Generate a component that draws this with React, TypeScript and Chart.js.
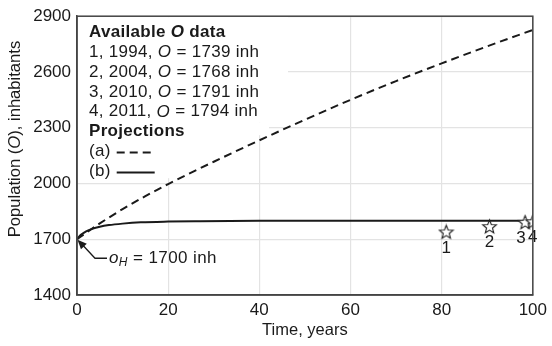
import React, { useEffect, useRef } from "react";
import { Chart, registerables } from "chart.js";
Chart.register(...registerables);

// Projection (a) – dashed
const tA = [0, 5, 10, 15, 20, 30, 40, 50, 60, 70, 80, 90, 100];
const popA = [1700, 1785, 1862, 1932, 1997, 2117, 2232, 2343, 2450, 2551, 2646, 2738, 2826];
// Projection (b) – solid
const tB = [0, 0.5, 1, 2, 3, 5, 7, 10, 14, 20, 27, 40, 60, 80, 100];
const popB = [1700, 1715, 1726, 1742, 1753, 1767, 1776, 1784, 1791, 1795, 1797, 1799, 1800, 1800, 1800];
// Available O data
const obsLabels = ["1", "2", "3", "4"];
const obsYears = [1994, 2004, 2010, 2011];
const obsT = [81, 90.5, 98.3, 100];
const obsPop = [1739, 1768, 1791, 1794];
// Axes
const xTicks = [0, 20, 40, 60, 80, 100];
const yTicks = [1400, 1700, 2000, 2300, 2600, 2900];
const oH = 1700;

const FF = '"Liberation Sans", Arial, Helvetica, sans-serif';
const INK = "#1a1a1a";
const FS = 17;

type Part = { t: string; b?: boolean; i?: boolean; size?: number; dy?: number };

function drawParts(ctx: CanvasRenderingContext2D, x: number, y: number, parts: Part[], size: number) {
  let cx = x;
  for (const p of parts) {
    const s = p.size ?? size;
    ctx.font = `${p.i ? "italic " : ""}${p.b ? "bold " : ""}${s}px ${FF}`;
    ctx.fillText(p.t, cx, y + (p.dy ?? 0));
    cx += ctx.measureText(p.t).width;
  }
  return cx;
}
function measureParts(ctx: CanvasRenderingContext2D, parts: Part[], size: number) {
  let w = 0;
  for (const p of parts) {
    const s = p.size ?? size;
    ctx.font = `${p.i ? "italic " : ""}${p.b ? "bold " : ""}${s}px ${FF}`;
    w += ctx.measureText(p.t).width;
  }
  return w;
}

function makeStar(): HTMLCanvasElement {
  const c = document.createElement("canvas");
  c.width = 17;
  c.height = 17;
  const g = c.getContext("2d")!;
  const cx = 8.5, cy = 9, R = 7.2, r = 3.1;
  g.beginPath();
  for (let k = 0; k < 10; k++) {
    const ang = -Math.PI / 2 + (k * Math.PI) / 5;
    const rad = k % 2 === 0 ? R : r;
    const px = cx + rad * Math.cos(ang);
    const py = cy + rad * Math.sin(ang);
    if (k === 0) g.moveTo(px, py);
    else g.lineTo(px, py);
  }
  g.closePath();
  g.fillStyle = "#fff";
  g.fill();
  g.lineWidth = 1.1;
  g.strokeStyle = "#222";
  g.stroke();
  return c;
}

const overlay = {
  id: "overlay",
  beforeDatasetsDraw(chart: any) {
    const { ctx, chartArea: a } = chart;
    ctx.save();
    ctx.fillStyle = "#fff";
    ctx.fillRect(a.left + 1, a.top + 1, 210, 105);
    ctx.fillRect(a.left + 1, a.top + 106, 191, 13);
    ctx.fillRect(a.left + 1, a.top + 119, 93, 43);
    ctx.restore();
  },
  afterDatasetsDraw(chart: any) {
    const { ctx, chartArea: a, scales } = chart;
    const xs = scales.x, ys = scales.y;
    ctx.save();
    ctx.fillStyle = INK;
    ctx.textBaseline = "middle";
    ctx.textAlign = "left";
    (ctx as any).letterSpacing = "0.3px";
    const lx = a.left + 12;
    const ly0 = a.top + 16;
    const dy = 19.9;
    drawParts(ctx, lx, ly0, [{ t: "Available ", b: true }, { t: "O", b: true, i: true }, { t: " data", b: true }], FS);
    for (let k = 0; k < obsLabels.length; k++) {
      drawParts(
        ctx,
        lx,
        ly0 + dy * (k + 1),
        [{ t: `${obsLabels[k]}, ${obsYears[k]}, ` }, { t: "O", i: true }, { t: ` = ${obsPop[k]} inh` }],
        FS
      );
    }
    drawParts(ctx, lx, ly0 + dy * 5, [{ t: "Projections", b: true }], FS);
    const ea = drawParts(ctx, lx, ly0 + dy * 6, [{ t: "(a) " }], FS);
    const eb = drawParts(ctx, lx, ly0 + dy * 7, [{ t: "(b) " }], FS);
    ctx.strokeStyle = INK;
    ctx.lineWidth = 2;
    ctx.setLineDash([8, 5]);
    ctx.beginPath();
    ctx.moveTo(ea + 1, ly0 + dy * 6 + 1);
    ctx.lineTo(ea + 39, ly0 + dy * 6 + 1);
    ctx.stroke();
    ctx.setLineDash([]);
    ctx.beginPath();
    ctx.moveTo(eb + 1, ly0 + dy * 7 + 1);
    ctx.lineTo(eb + 39, ly0 + dy * 7 + 1);
    ctx.stroke();

    // labels under stars
    ctx.font = `${FS}px ${FF}`;
    ctx.textAlign = "center";
    (ctx as any).letterSpacing = "0px";
    for (let k = 0; k < obsLabels.length; k++) {
      const px = xs.getPixelForValue(obsT[k]) + (k === 2 ? -4 : 0);
      const py = ys.getPixelForValue(obsPop[k]) + 16;
      ctx.fillText(obsLabels[k], px, py);
    }

    // o_H annotation
    const tx = xs.getPixelForValue(0);
    const ty = ys.getPixelForValue(oH);
    const ex = tx + 18, ey = ty + 19;
    ctx.strokeStyle = INK;
    ctx.lineWidth = 1.3;
    ctx.beginPath();
    ctx.moveTo(tx + 4, ty + 4);
    ctx.lineTo(ex, ey);
    ctx.lineTo(ex + 12, ey);
    ctx.stroke();
    const ang = Math.atan2(ey - ty, ex - tx);
    const L = 10, W = 4;
    ctx.beginPath();
    ctx.moveTo(tx + 0.5, ty + 0.5);
    ctx.lineTo(tx + L * Math.cos(ang) - W * Math.sin(ang), ty + L * Math.sin(ang) + W * Math.cos(ang));
    ctx.lineTo(tx + L * Math.cos(ang) + W * Math.sin(ang), ty + L * Math.sin(ang) - W * Math.cos(ang));
    ctx.closePath();
    ctx.fill();
    ctx.textAlign = "left";
    (ctx as any).letterSpacing = "0.4px";
    drawParts(ctx, ex + 14, ey, [{ t: "o", i: true }, { t: "H", i: true, size: 12, dy: 4 }, { t: ` = ${oH} inh` }], FS);

    // frame
    ctx.strokeStyle = "#444";
    ctx.lineWidth = 1.5;
    ctx.strokeRect(a.left, a.top, a.right - a.left, a.bottom - a.top);
    ctx.restore();
  },
  afterDraw(chart: any) {
    const { ctx } = chart;
    ctx.save();
    ctx.fillStyle = INK;
    ctx.textBaseline = "middle";
    ctx.translate(15, 139);
    ctx.rotate(-Math.PI / 2);
    const parts: Part[] = [{ t: "Population (" }, { t: "O", i: true }, { t: "), inhabitants" }];
    const w = measureParts(ctx, parts, 16.6);
    drawParts(ctx, -w / 2, 0, parts, 16.6);
    ctx.restore();
  },
};

export default function App() {
  const ref = useRef<HTMLCanvasElement>(null);
  useEffect(() => {
    const star = makeStar();
    const chart = new Chart(ref.current!, {
      type: "line",
      data: {
        datasets: [
          {
            label: "Available O data",
            data: obsT.map((x, i) => ({ x, y: obsPop[i] })),
            showLine: false,
            pointStyle: star as any,
            pointRadius: 8,
            borderColor: "#222",
            backgroundColor: "#fff",
          },
          {
            label: "(b)",
            data: tB.map((x, i) => ({ x, y: popB[i] })),
            borderColor: INK,
            borderWidth: 2,
            pointRadius: 0,
            cubicInterpolationMode: "monotone",
          },
          {
            label: "(a)",
            data: tA.map((x, i) => ({ x, y: popA[i] })),
            borderColor: INK,
            borderWidth: 2,
            borderDash: [8, 5],
            pointRadius: 0,
            cubicInterpolationMode: "monotone",
          },
        ],
      },
      options: {
        responsive: false,
        animation: false,
        layout: { padding: { left: 0, top: 16, right: 17, bottom: 0 } },
        plugins: { legend: { display: false }, tooltip: { enabled: false } },
        scales: {
          x: {
            type: "linear",
            min: xTicks[0],
            max: xTicks[xTicks.length - 1],
            afterBuildTicks: (s: any) => {
              s.ticks = xTicks.map((v) => ({ value: v }));
            },
            afterFit: (s: any) => {
              s.height = 51;
            },
            ticks: { color: INK, font: { family: FF, size: FS }, padding: 5, callback: (v: any) => String(v) },
            grid: { color: "#e3e3e3", drawTicks: false, lineWidth: 1.2 },
            border: { display: true, color: "#444", width: 1.5 },
            title: {
              display: true,
              text: "Time, years",
              color: INK,
              font: { family: FF, size: 16.5 },
              padding: { top: 0, bottom: 6 },
            },
          },
          y: {
            type: "linear",
            min: yTicks[0],
            max: yTicks[yTicks.length - 1],
            afterBuildTicks: (s: any) => {
              s.ticks = yTicks.map((v) => ({ value: v }));
            },
            afterFit: (s: any) => {
              s.width = 77;
            },
            ticks: { color: INK, font: { family: FF, size: FS }, padding: 6, callback: (v: any) => String(v) },
            grid: { color: "#e3e3e3", drawTicks: false, lineWidth: 1.2 },
            border: { display: true, color: "#444", width: 1.5 },
          },
        },
      },
      plugins: [overlay],
    });
    return () => chart.destroy();
  }, []);
  return (
    <div style={{ position: "absolute", left: 0, top: 0, width: 552, height: 346, background: "#fff" }}>
      <canvas ref={ref} width={552} height={346} />
    </div>
  );
}
